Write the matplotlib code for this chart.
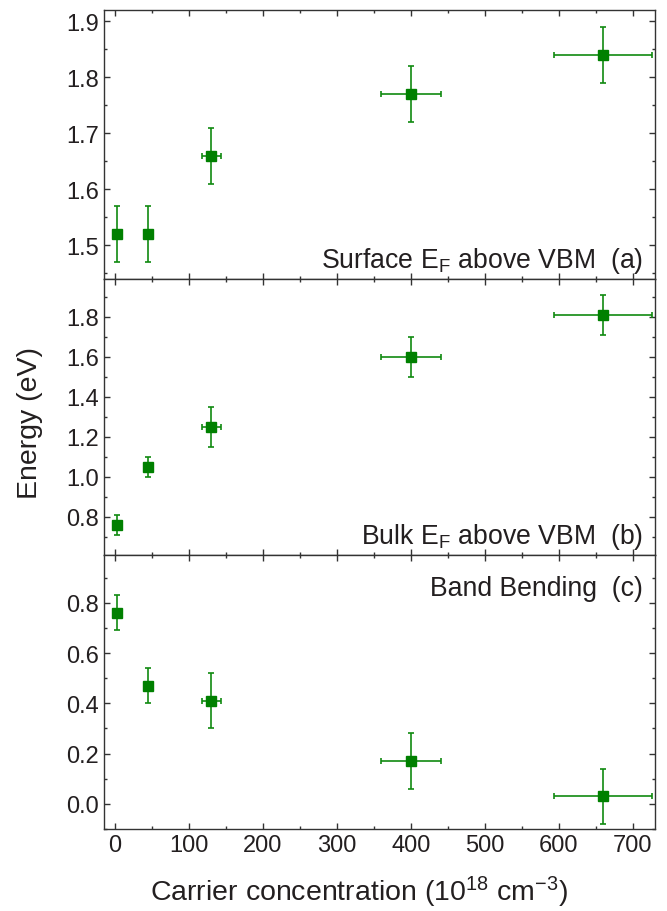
import matplotlib
matplotlib.use("Agg")
import matplotlib.pyplot as plt
from matplotlib.ticker import MultipleLocator

# Carrier concentration (10^18 cm^-3) and its uncertainty
conc = [2, 45, 130, 400, 660]
conc_err = [0.2, 4.5, 13, 40, 66]

# (a) surface Fermi level above VBM (eV)
surface_ef = [1.52, 1.52, 1.66, 1.77, 1.84]
surface_err = [0.05, 0.05, 0.05, 0.05, 0.05]

# (b) bulk Fermi level above VBM (eV)
bulk_ef = [0.76, 1.05, 1.25, 1.60, 1.81]
bulk_err = [0.05, 0.05, 0.10, 0.10, 0.10]

# (c) band bending (eV)
band_bend = [0.76, 0.47, 0.41, 0.17, 0.03]
band_err = [0.07, 0.07, 0.11, 0.11, 0.11]

panel_labels = ["Surface E$_F$ above VBM  (a)",
                "Bulk E$_F$ above VBM  (b)",
                "Band Bending  (c)"]
xticks = [0, 100, 200, 300, 400, 500, 600, 700]

plt.rcParams["font.family"] = ["Liberation Sans", "DejaVu Sans"]
plt.rcParams["mathtext.default"] = "regular"

TXT = "#231f20"
SPINE = "#333333"
GREEN = "#008000"
ERRC = "#108a10"

fig = plt.figure(figsize=(6.67, 9.12), dpi=100)
left, right = 104 / 667, 655 / 667
edges = [11, 280, 556, 830]
axes = []
for i in range(3):
    top = 1 - edges[i] / 912
    bot = 1 - edges[i + 1] / 912
    ax = fig.add_axes([left, bot, right - left, top - bot])
    axes.append(ax)

series = [(surface_ef, surface_err), (bulk_ef, bulk_err), (band_bend, band_err)]
ylims = [(1.44, 1.92), (0.61, 1.99), (-0.1, 0.99)]
majors = [0.1, 0.2, 0.2]
label_y = [0.045, 0.045, 0.855]

for ax, (vals, errs), ylim, mj, lab, ly in zip(axes, series, ylims, majors,
                                                panel_labels, label_y):
    ax.errorbar(conc, vals, yerr=errs, xerr=conc_err, fmt="s", color=GREEN,
                ecolor=ERRC, elinewidth=1.2, capsize=2.4, capthick=1.2,
                markersize=7, zorder=3)
    ax.set_xlim(-15, 730)
    ax.set_ylim(*ylim)
    ax.xaxis.set_major_locator(MultipleLocator(100))
    ax.xaxis.set_minor_locator(MultipleLocator(50))
    ax.yaxis.set_major_locator(MultipleLocator(mj))
    ax.yaxis.set_minor_locator(MultipleLocator(mj / 2))
    ax.yaxis.set_major_formatter(plt.FormatStrFormatter("%.1f"))
    ax.tick_params(which="both", direction="in", top=True, right=True,
                   color=SPINE, width=1.0, labelsize=17, labelcolor=TXT)
    ax.tick_params(which="major", length=4.5)
    ax.tick_params(which="minor", length=2.2)
    for sp in ax.spines.values():
        sp.set_color(SPINE)
        sp.set_linewidth(1.0)
    ax.text(0.978, ly, lab, transform=ax.transAxes, ha="right",
            va="baseline", fontsize=19.2, color=TXT)

for ax in axes[:2]:
    ax.tick_params(labelbottom=False)
axes[2].set_xticks(xticks)
axes[2].set_xticklabels([str(t) for t in xticks])

fig.text(30 / 667, 1 - 423 / 912, "Energy (eV)", rotation=90, ha="center",
         va="center", fontsize=20.5, color=TXT)
fig.text(359 / 667, 1 - 901 / 912,
         "Carrier concentration (10$^{18}$ cm$^{-3}$)", ha="center",
         va="baseline", fontsize=20.5, color=TXT)

fig.savefig("out.png", dpi=100)
